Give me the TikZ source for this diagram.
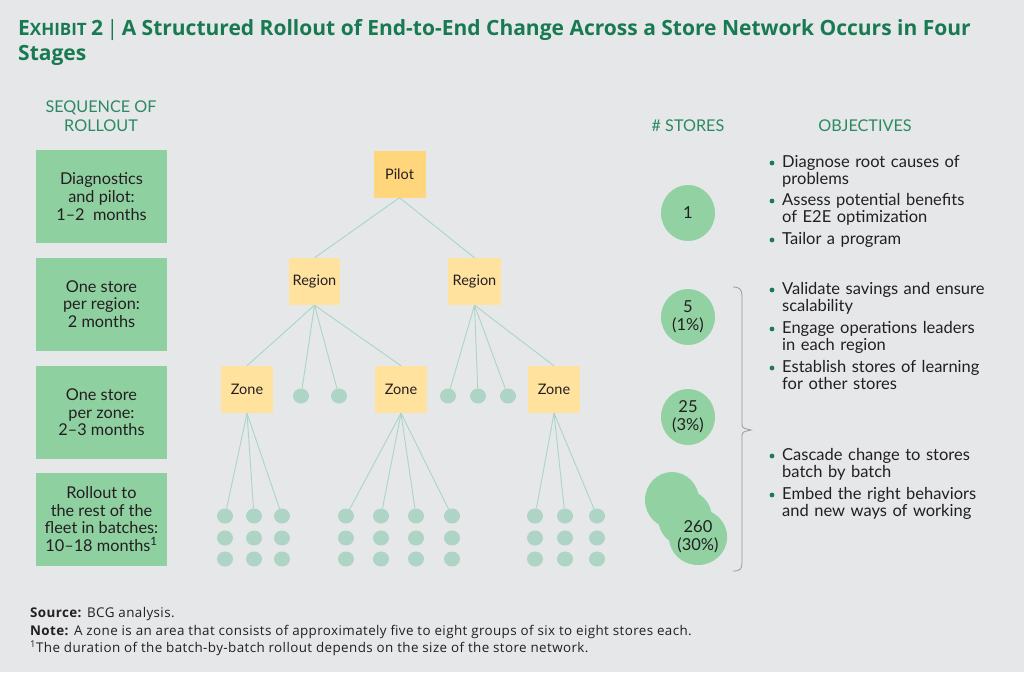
\documentclass[tikz,border=0pt]{standalone}
\usepackage{fontspec}
\setmainfont{Lato}
\newfontfamily\titlef{Open Sans}
\newfontfamily\footf[LetterSpace=3]{Open Sans}
\usetikzlibrary{shapes.geometric}
\definecolor{bg}{HTML}{E6E7E8}
\definecolor{titlegreen}{HTML}{177A52}
\definecolor{hdrgreen}{HTML}{2A8A62}
\definecolor{boxgreen}{HTML}{8FD0A1}
\definecolor{pilotc}{HTML}{FFD67C}
\definecolor{regc}{HTML}{FFE29E}
\definecolor{dotc}{HTML}{AED4C5}
\definecolor{linec}{HTML}{A9D6C6}
\definecolor{storec}{HTML}{91D1A2}
\definecolor{txt}{HTML}{231F20}
\definecolor{bulgreen}{HTML}{1E7A52}
\definecolor{bracec}{HTML}{9A9A9A}
\begin{document}
\begin{tikzpicture}[x=1pt,y=-1pt,
  lbox/.style={fill=boxgreen, minimum width=131pt, minimum height=93pt, align=center, font=\fontsize{16.3}{17.6}\selectfont, text=txt, inner sep=0pt},
  tbox/.style={minimum width=52pt, minimum height=47pt, font=\fontsize{14.5}{16}\selectfont, text=txt, inner sep=0pt},
  pilotbox/.style={tbox, fill=pilotc},
  regbox/.style={tbox, fill=regc},
  dot/.style={ellipse, fill=dotc, minimum width=16pt, minimum height=15pt, inner sep=0pt},
  link/.style={draw=linec, line width=0.9pt},
  scirc/.style={ellipse, fill=storec, minimum width=54pt, minimum height=56pt, inner sep=0pt, align=center, font=\fontsize{16.5}{18}\selectfont, text=txt},
  hdr/.style={text=hdrgreen, font=\fontsize{16.2}{18.5}\selectfont, align=center, inner sep=0pt},
  obj/.style={anchor=base west, text width=240pt, align=left, font=\fontsize{16.5}{17}\selectfont, inner sep=0pt, text=txt},
  bul/.style={circle, fill=bulgreen, minimum size=4.8pt, inner sep=0pt},
  foot/.style={anchor=base west, inner sep=0pt, text=txt, font=\footf\fontsize{13.4}{15}\selectfont},
  bracepath/.style={draw=bracec, line width=0.8pt}
]
\useasboundingbox (0,0) rectangle (1024,672);
\fill[bg] (0,0) rectangle (1024,672);

% title
\node[anchor=base west, inner sep=0pt, align=left, text=titlegreen, font=\titlef\bfseries\fontsize{21}{25}\selectfont] (title) at (18,60.5)
 {{\fontsize{21}{25}\selectfont E}{\fontsize{17}{25}\selectfont XHIBIT }2\,{\mdseries|}\,A Structured Rollout of End-to-End Change Across a Store Network Occurs in Four\\Stages};

% headers
\node[hdr] (h1) at (101,116) {SEQUENCE OF\\ROLLOUT};
\node[hdr] (h2) at (688,126) {\# STORES};
\node[hdr] (h3) at (865,126) {OBJECTIVES};

% left boxes
\node[lbox] (s1) at (101.5,196.5) {Diagnostics\\and pilot:\\1--2\ \ months};
\node[lbox] (s2) at (101.5,304) {One store\\per region:\\2 months};
\node[lbox] (s3) at (101.5,412.5) {One store\\per zone:\\2--3 months};
\node[lbox] (s4) at (101.5,519) {Rollout to\\the rest of the\\fleet in batches:\\10--18 months\textsuperscript{1}};

% tree
\node[pilotbox] (p) at (399.5,174) {Pilot};
\node[regbox, minimum width=51pt] (r1) at (314.5,281.5) {Region};
\node[regbox, minimum width=53pt] (r2) at (474.5,281.5) {Region};
\node[regbox] (z1) at (247,389.5) {Zone};
\node[regbox] (z2) at (401,389.5) {Zone};
\node[regbox] (z3) at (554,389.5) {Zone};
\node[dot] (d1) at (301,396) {};
\node[dot] (d2) at (339,396) {};
\node[dot] (d3) at (448,396) {};
\node[dot] (d4) at (478,396) {};
\node[dot] (d5) at (508,396) {};

\foreach \x [count=\i] in {225,254,282}{
  \foreach \y [count=\j] in {516,538,559}{
    \node[dot] (ga\i\j) at (\x,\y) {};}}
\foreach \x [count=\i] in {346,381,416,452}{
  \foreach \y [count=\j] in {516,538,559}{
    \node[dot] (gb\i\j) at (\x,\y) {};}}
\foreach \x [count=\i] in {535,565,597}{
  \foreach \y [count=\j] in {516,538,559}{
    \node[dot] (gc\i\j) at (\x,\y) {};}}

\draw[link] (p.south) -- (r1.north);
\draw[link] (p.south) -- (r2.north);
\draw[link] (r1.south) -- (z1.north);
\draw[link] (r1.south) -- (d1);
\draw[link] (r1.south) -- (d2);
\draw[link] (r1.south) -- (z2.north);
\draw[link] (r2.south) -- (d3);
\draw[link] (r2.south) -- (d4);
\draw[link] (r2.south) -- (d5);
\draw[link] (r2.south) -- (z3.north);
\foreach \i in {1,2,3} \draw[link] (z1.south) -- (ga\i1);
\foreach \i in {1,2,3,4} \draw[link] (z2.south) -- (gb\i1);
\foreach \i in {1,2,3} \draw[link] (z3.south) -- (gc\i1);

% store circles
\node[scirc] (c1) at (688,213) {1};
\node[scirc] (c2) at (688,317) {5\\(1\%)};
\node[scirc] (c3) at (688,417) {25\\(3\%)};
\node[scirc] (c4a) at (672,500) {};
\node[scirc] (c4b) at (685,518) {};
\node[scirc] (c4) at (698,537) {260\\(30\%)};

% brace
\draw[bracepath] (733,287) .. controls (740,287) and (742,290) .. (742,296) -- (742,423) .. controls (742,428) .. (751,430) .. controls (742,432) .. (742,437) -- (742,563) .. controls (742,569) and (740,571) .. (733,571);

% objectives
\node[bul] (b1) at (772,163) {};
\node[obj] (o1) at (782,167.5) {Diagnose root causes of\\problems};
\node[bul] (b2) at (772,201) {};
\node[obj] (o2) at (782,205.5) {Assess potential benefits\\of E2E optimization};
\node[bul] (b3) at (772,240) {};
\node[obj] (o3) at (782,244.5) {Tailor a program};
\node[bul] (b4) at (772,290) {};
\node[obj] (o4) at (782,294.5) {Validate savings and ensure\\scalability};
\node[bul] (b5) at (772,329) {};
\node[obj] (o5) at (782,333.5) {Engage operations leaders\\in each region};
\node[bul] (b6) at (772,368) {};
\node[obj] (o6) at (782,372.5) {Establish stores of learning\\for other stores};
\node[bul] (b7) at (772,456) {};
\node[obj] (o7) at (782,460.5) {Cascade change to stores\\batch by batch};
\node[bul] (b8) at (772,495) {};
\node[obj] (o8) at (782,499.5) {Embed the right behaviors\\and new ways of working};

% footnotes
\node[foot] (f1) at (30,617) {\textbf{Source:} BCG analysis.};
\node[foot] (f2) at (30,635) {\textbf{Note:} A zone is an area that consists of approximately five to eight groups of six to eight stores each.};
\node[foot] (f3) at (30,652.5) {\textsuperscript{1}The duration of the batch-by-batch rollout depends on the size of the store network.};
\end{tikzpicture}
\end{document}
